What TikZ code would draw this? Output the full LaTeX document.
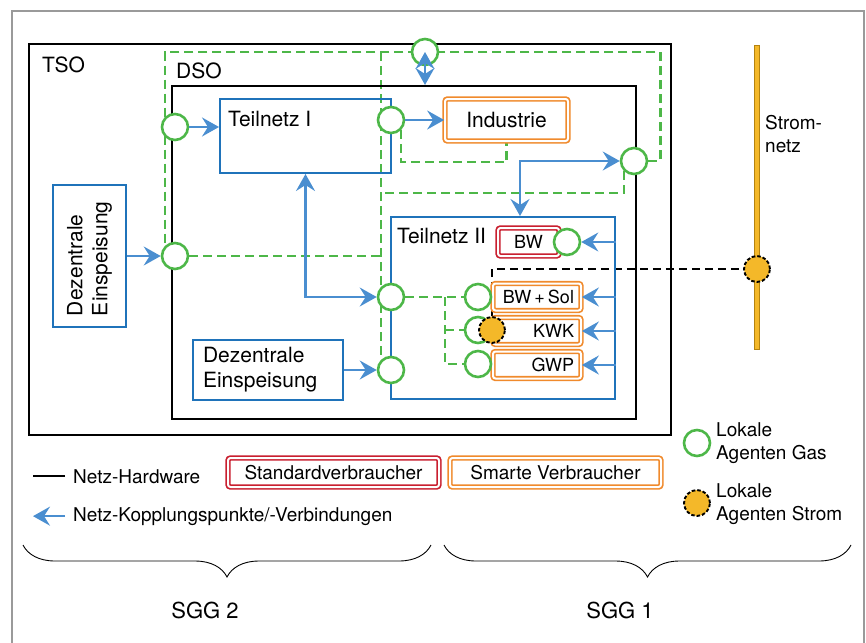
\documentclass[tikz,border=0pt]{standalone}
\usepackage{fontspec}
\setmainfont{TeX Gyre Heros}
\usetikzlibrary{arrows.meta,decorations.pathreplacing,backgrounds}

\definecolor{rahmengrau}{HTML}{9A9A9A}
\definecolor{netzblau}{HTML}{1F73BA}
\definecolor{pfeilblau}{HTML}{4A8ED0}
\definecolor{gasgruen}{HTML}{4DB748}
\definecolor{smartorange}{HTML}{F08A2C}
\definecolor{standardrot}{HTML}{C91F2F}
\definecolor{stromgelb}{HTML}{F4B829}
\definecolor{stromrand}{HTML}{B5830F}

\tikzset{
    hardware/.style={draw=black, line width=2.1pt, inner sep=0pt},
    netz/.style={draw=netzblau, line width=2pt, inner sep=0pt},
    kopplung/.style={draw=pfeilblau, line width=2.2pt},
    gasnetz/.style={draw=gasgruen, line width=2.6pt, dash pattern=on 9pt off 5pt},
    stromleitung/.style={draw=black, line width=2.4pt, dash pattern=on 8pt off 5pt},
    gasagent/.style={circle, draw=gasgruen, line width=2.6pt, fill=white, minimum size=26pt, inner sep=0pt},
    stromagent/.style={circle, draw=black, line width=1.9pt, dash pattern=on 3.5pt off 2pt, fill=stromgelb, minimum size=26pt, inner sep=0pt},
    verbraucher/.style={draw=#1, double=white, double distance=2pt, line width=1.7pt, rounded corners=2.5pt, inner sep=0pt},
    txt/.style={font=\fontsize{21}{25}\selectfont, inner sep=0pt},
    legende/.style={font=\fontsize{19}{23}\selectfont, inner sep=0pt},
    klein/.style={font=\fontsize{18}{22}\selectfont, inner sep=0pt},
    >={Stealth[length=17pt,width=19pt,inset=6pt]}
}

\begin{document}
\begin{tikzpicture}[x=1pt, y=-1pt]
    \useasboundingbox (0,0) rectangle (866,642);
    \draw[rahmengrau, line width=1.6pt] (12,660) -- (12,11) -- (864,11) -- (864,660);

    % Netzebenen
    \node[hardware, minimum width=642pt, minimum height=391pt] (tso) at (350,239.5) {};
    \node[hardware, minimum width=464pt, minimum height=333pt] (dso) at (404,252.5) {};
    \node[txt, anchor=base west] (lblTso) at (42,72) {TSO};
    \node[txt, anchor=base west] (lblDso) at (176,78) {DSO};

    \node[netz, minimum width=171pt, minimum height=74pt] (teil1) at (305.5,136) {};
    \node[txt, anchor=base west] (lblTeil1) at (228,126) {Teilnetz I};
    \node[netz, minimum width=224pt, minimum height=182pt] (teil2) at (503,308) {};
    \node[txt, anchor=base west] (lblTeil2) at (397,243) {Teilnetz II};

    \node[netz, txt, rotate=90, minimum width=142pt, minimum height=73pt, text width=120pt, align=left] (dezL) at (89.5,256) {Dezentrale\\Einspeisung};
    \node[netz, txt, minimum width=150pt, minimum height=60pt, text width=130pt, align=left] (dezU) at (268,370) {Dezentrale\\Einspeisung};

    % Verbraucher
    \node[verbraucher=smartorange, txt, minimum width=123pt, minimum height=42pt] (ind) at (506.5,120) {Industrie};
    \node[verbraucher=standardrot, klein, minimum width=61pt, minimum height=28pt] (bw) at (528.5,242) {BW};
    \node[verbraucher=smartorange, klein, minimum width=88pt, minimum height=27pt, text width=74pt, align=right] (bwsol) at (537,297) {BW\,+\,Sol};
    \node[verbraucher=smartorange, klein, minimum width=88pt, minimum height=27pt, text width=74pt, align=right] (kwk) at (537,331) {KWK};
    \node[verbraucher=smartorange, klein, minimum width=88pt, minimum height=27pt, text width=74pt, align=right] (gwp) at (537,365) {GWP};

    % Stromnetz
    \draw[draw=stromrand, fill=stromgelb, line width=0.9pt] (754.5,45) rectangle (759.5,349);
    \node[legende, anchor=north west, align=left] (lblStrom) at (765,115) {Strom-\\netz};

    % lokale Agenten
    \node[gasagent] (gL1) at (175,127) {};
    \node[gasagent] (gL2) at (175,256) {};
    \node[gasagent] (gTop) at (425,52) {};
    \node[gasagent] (gT1) at (391,120) {};
    \node[gasagent] (gR) at (634,161) {};
    \node[gasagent] (gT2a) at (391,297) {};
    \node[gasagent] (gT2b) at (391,370) {};
    \node[gasagent] (gBW) at (567,242) {};
    \node[gasagent] (gS1) at (478,297) {};
    \node[gasagent] (gS2) at (478,330) {};
    \node[gasagent] (gS3) at (478,364) {};
    \node[stromagent] (sKWK) at (492,330) {};
    \node[stromagent] (sNetz) at (757,269) {};

    \coordinate (gasRing) at (381,193);
    \coordinate (gasVerteiler) at (445,297);

    \begin{pgfonlayer}{background}
        \draw[gasnetz] (gR.east) -- ++(12,0) |- (gTop.center) -| (gL2.north west);
        \draw[gasnetz] (gT2b.north west |- gTop.center) -- (gT2b.north west);
        \draw[gasnetz] (gR.south west) |- (gasRing);
        \draw[gasnetz] (gL2) -- (gL2 -| gT2b.north west);
        \draw[gasnetz] (gT1.south east) -- ++(0,32) -| (ind.south);
        \draw[gasnetz] (gT2a) -- (gS1);
        \draw[gasnetz] (gasVerteiler) |- (gS3);
        \draw[gasnetz] (gasVerteiler |- gS2) -- (gS2);
        \draw[stromleitung] (sKWK) |- (sNetz);
    \end{pgfonlayer}

    % Kopplungen
    \draw[kopplung, ->] (dezL) -- (gL2);
    \draw[kopplung, ->] (gL1) -- (gL1 -| teil1.west);
    \draw[kopplung, ->] (gT1) -- (ind);
    \draw[kopplung, <->] (teil1.south) |- (gT2a);
    \draw[kopplung, <->] (gR) -| ([xshift=17pt]teil2.north);
    \draw[kopplung, ->] (dezU) -- (gT2b);
    \draw[kopplung, <->] (gTop.center) -- (gTop |- dso.north);
    \foreach \ziel in {gBW, bwsol, kwk, gwp}
        \draw[kopplung, ->] (teil2.east |- \ziel) -- (\ziel);

    % Legende
    \node[legende, anchor=base west] (lgHw) at (73,483) {Netz-Hardware};
    \draw[hardware] ([xshift=-8pt]lgHw.west) -- ++(-32,0);
    \node[legende, anchor=base west] (lgKp) at (73,521) {Netz-Kopplungspunkte/-Verbindungen};
    \draw[kopplung, ->] ([xshift=-8pt]lgKp.west) -- ++(-32,0);
    \node[verbraucher=standardrot, legende, minimum width=211pt, minimum height=29pt] (lgStd) at (333.5,472.5) {Standardverbraucher};
    \node[verbraucher=smartorange, legende, minimum width=211pt, minimum height=29pt] (lgSmart) at (555.5,472.5) {Smarte Verbraucher};
    \node[gasagent] (lgGas) at (697,443) {};
    \node[legende, anchor=west, align=left] (lgGasTxt) at (716,443) {Lokale\\Agenten Gas};
    \node[stromagent] (lgStrom) at (697,503) {};
    \node[legende, anchor=west, align=left] (lgStromTxt) at (716,504) {Lokale\\Agenten Strom};

    % Smart Grid Gruppen
    \draw[decorate, decoration={brace, amplitude=32pt}, line width=0.9pt] (431,545) -- (23,545);
    \draw[decorate, decoration={brace, amplitude=32pt}, line width=0.9pt] (851,545) -- (444,545);
    \node[font=\fontsize{22}{26}\selectfont, inner sep=0pt] (sgg2) at (205,610) {SGG 2};
    \node[font=\fontsize{22}{26}\selectfont, inner sep=0pt] (sgg1) at (620,610) {SGG 1};
\end{tikzpicture}
\end{document}
